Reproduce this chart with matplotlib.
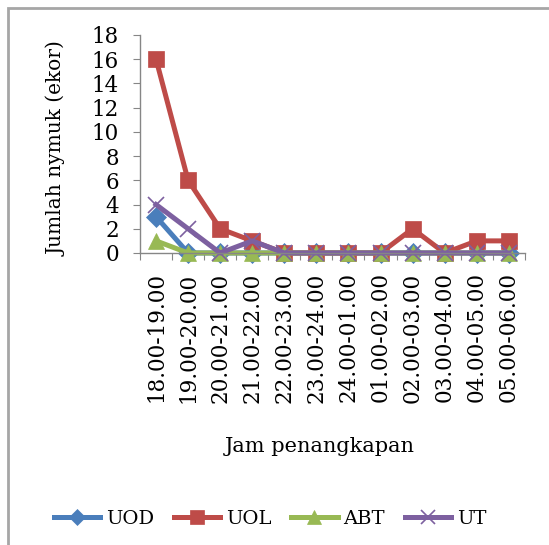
import numpy as np
import matplotlib.pyplot as plt
from matplotlib.patches import Rectangle

jam = ['18.00-19.00', '19.00-20.00', '20.00-21.00', '21.00-22.00',
       '22.00-23.00', '23.00-24.00', '24.00-01.00', '01.00-02.00',
       '02.00-03.00', '03.00-04.00', '04.00-05.00', '05.00-06.00']
uod = [3, 0, 0, 0, 0, 0, 0, 0, 0, 0, 0, 0]
uol = [16, 6, 2, 1, 0, 0, 0, 0, 2, 0, 1, 1]
abt = [1, 0, 0, 0, 0, 0, 0, 0, 0, 0, 0, 0]
ut = [4, 2, 0, 1, 0, 0, 0, 0, 0, 0, 0, 0]

plt.rcParams['font.family'] = ['DejaVu Serif']

fig = plt.figure(figsize=(5.49, 5.45), dpi=100)
ax = fig.add_axes([0.255, 0.5358, 0.701, 0.4])

x = np.arange(len(jam))
seri = [
    ('UOD', uod, '#4a7ebb', 'D', 10),
    ('UOL', uol, '#be4b48', 's', 12),
    ('ABT', abt, '#98b954', '^', 12),
    ('UT', ut, '#7d60a0', 'x', 12),
]
for nama, nilai, warna, mk, ms in seri:
    ax.plot(x, nilai, color=warna, lw=3.6, marker=mk, markersize=ms,
            markeredgewidth=1.2 if mk == 'x' else 0.5, markeredgecolor=warna,
            label=nama, clip_on=False)

ax.set_xlim(-0.5, len(jam) - 0.5)
ax.set_ylim(0, 18)
ax.set_yticks(range(0, 19, 2))
ax.set_xticks(np.arange(-0.5, len(jam), 1))
ax.set_xticklabels([])
ax.set_xticks(x, minor=True)
ax.set_xticklabels(jam, minor=True, rotation=90, fontsize=15.5)
ax.tick_params(axis='x', which='minor', length=0, pad=14)
ax.tick_params(axis='x', which='major', length=5, color='#868686', direction='out')
ax.tick_params(axis='y', length=5, color='#868686', labelsize=15.5, pad=10)

for s in ['top', 'right']:
    ax.spines[s].set_visible(False)
for s in ['left', 'bottom']:
    ax.spines[s].set_color('#868686')
    ax.spines[s].set_linewidth(1)

ax.set_ylabel('Jumlah nymuk (ekor)', fontsize=14.5)
ax.yaxis.set_label_coords(-0.19, 0.48)
fig.text(0.582, 0.18, 'Jam penangkapan', ha='center', va='center', fontsize=15)

fig.legend(loc='center', bbox_to_anchor=(0.492, 0.048), ncol=4, frameon=False,
           fontsize=14, handlelength=2.4, columnspacing=1.0, handletextpad=0.3,
           markerscale=0.8)

fig.patches.append(Rectangle((8 / 549, -0.2), 1.2, 1.2 - 8 / 545,
                             transform=fig.transFigure, fill=False,
                             edgecolor='#a6a6a6', lw=2))

fig.savefig('out.png', dpi=100)
